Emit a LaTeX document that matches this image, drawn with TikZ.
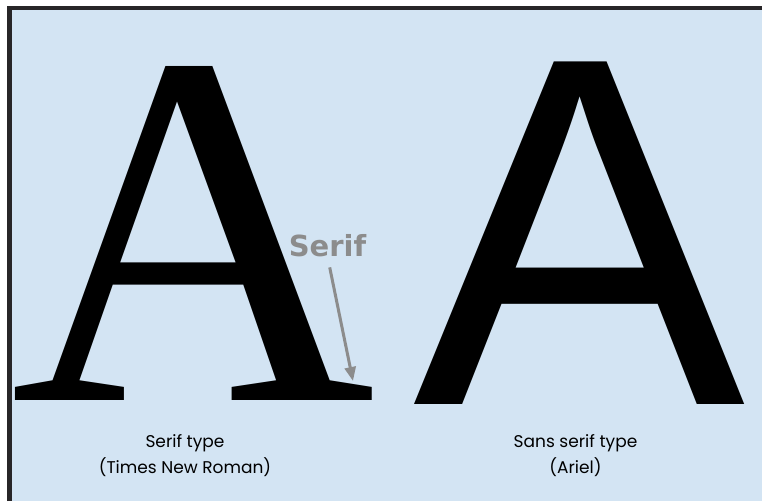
\documentclass[tikz,border=0pt]{standalone}
\usepackage{fontspec}
\usepackage{tikz}
\usetikzlibrary{arrows.meta, positioning}
\newfontfamily\timesfam{Liberation Serif}
\newfontfamily\arialfam{Liberation Sans}
\newfontfamily\callfam{DejaVu Sans}
\newfontfamily\capfam{Poppins}
\definecolor{cSky}{RGB}{211,228,243}
\definecolor{cFrame}{RGB}{40,38,40}
\definecolor{cNote}{RGB}{140,140,140}
\tikzset{
	glyph/.style  ={inner sep=0pt, anchor=base west, text=black},
	caption/.style={inner sep=0pt, anchor=base, align=center, font=\capfam\fontsize{17}{26}\selectfont},
	callout/.style={inner sep=0pt, anchor=base, text=cNote, font=\callfam\bfseries\fontsize{29}{29}\selectfont},
	pointer/.style={-{Triangle[length=14pt, width=11pt]}, line width=3pt, cNote},
}

\begin{document}
\begin{tikzpicture}[x=1pt, y=-1pt]
	\useasboundingbox (0,0) rectangle (762,501);
	% panel and frame
	\fill[cSky] (9.5,8) rectangle (762,501);
	\draw[cFrame, line width=4.5pt] (9.5,501) -- (9.5,8) -- (762,8);
	% the two letters
	\node[glyph, font=\timesfam\fontsize{506}{506}\selectfont] (serifA) at (10.5,400) {A};
	\node[glyph, font=\arialfam\fontsize{498}{498}\selectfont] (sansA) at (413.3,404) {A};
	% callout
	\node[callout] (serifLbl) at (327.5,256) {Serif};
	\coordinate (serifFoot) at (353,381);
	\draw[pointer, shorten <=11pt] (serifLbl.south) -- (serifFoot);
	% captions (base = last line)
	\node[caption] (serifCap) at (185,473) {Serif type\\(Times New Roman)};
	\node[caption] (sansCap) at (575.5,473) {Sans serif type\\(Ariel)};
\end{tikzpicture}
\end{document}
